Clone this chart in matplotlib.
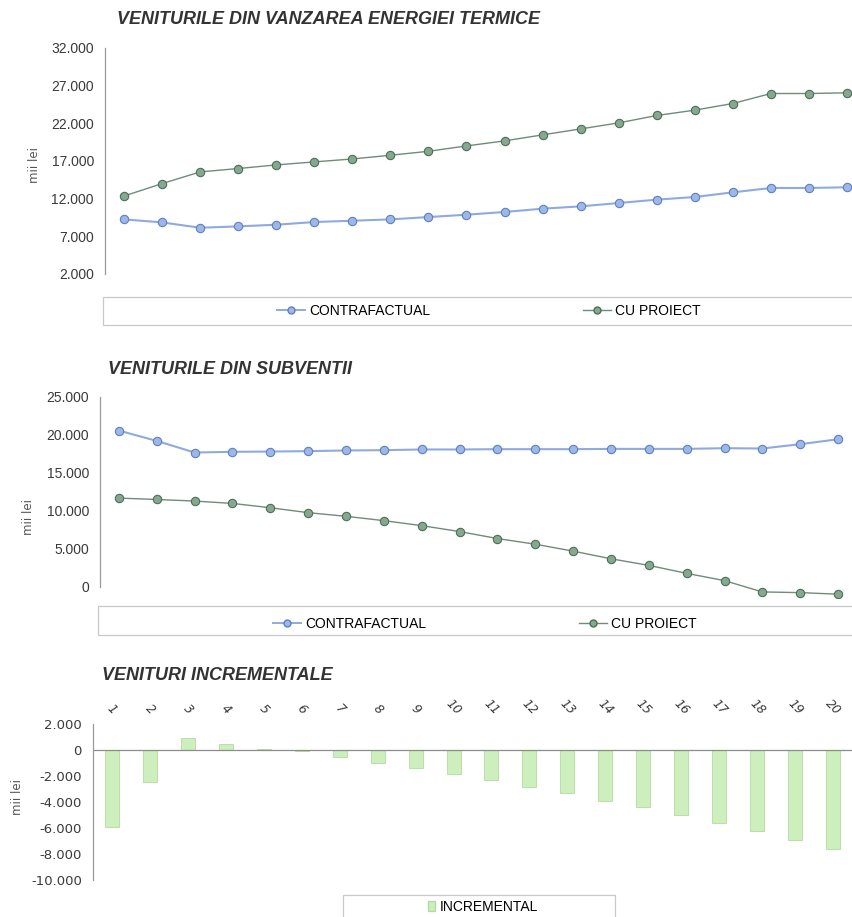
import matplotlib
matplotlib.use("Agg")
import matplotlib.pyplot as plt
from matplotlib.patches import Rectangle
from matplotlib.lines import Line2D
from matplotlib.ticker import FuncFormatter

# date (mii lei)
ani = list(range(1, 21))

termic_contrafactual = [9250, 8850, 8140, 8320, 8540, 8900, 9070, 9250, 9560, 9870,
                        10230, 10670, 10980, 11420, 11870, 12220, 12840, 13420, 13420, 13510]
termic_cu_proiect = [12350, 14000, 15550, 16000, 16480, 16880, 17270, 17760, 18290, 19000,
                     19670, 20470, 21260, 22060, 23040, 23750, 24630, 25960, 25960, 26050]

subventii_contrafactual = [20570, 19210, 17680, 17770, 17810, 17860, 17950, 17990, 18080, 18080,
                           18120, 18120, 18120, 18160, 18160, 18160, 18250, 18210, 18780, 19430]
subventii_cu_proiect = [11670, 11490, 11280, 10970, 10400, 9750, 9270, 8700, 8040, 7260,
                        6340, 5590, 4680, 3670, 2800, 1750, 790, -700, -790, -1000]

incremental = [-5900, -2450, 900, 500, 100, -50, -500, -1000, -1400, -1850,
               -2300, -2850, -3300, -3900, -4400, -5000, -5600, -6200, -6900, -7650]

W, H = 853, 917
NARROW = ['Liberation Sans Narrow', 'Liberation Sans', 'DejaVu Sans']
TXT = '#3a3a3a'
BLUE_L, BLUE_M, BLUE_E = '#8eaadf', '#9db8e6', '#5f7fbf'
GREEN_L, GREEN_M, GREEN_E = '#6f8c78', '#86a890', '#4d6e57'


def px(x, y):
    return x / W, 1 - y / H


def fmt(v, pos):
    return f"{int(round(v)):,}".replace(",", ".")


def box(x0, y0, x1, y1):
    fig.patches.append(Rectangle(px(x0, y1), (x1 - x0) / W, (y1 - y0) / H,
                                 transform=fig.transFigure, fill=False,
                                 edgecolor='#c8c8c8', linewidth=0.9))


def style(ax, ylim, ticks, bounds=None):
    ax.set_xlim(0.5, 20.5)
    ax.set_ylim(*ylim)
    ax.set_yticks(ticks)
    ax.yaxis.set_major_formatter(FuncFormatter(fmt))
    for s in ['top', 'right', 'bottom']:
        ax.spines[s].set_visible(False)
    ax.spines['left'].set_color('#9a9a9a')
    ax.spines['left'].set_linewidth(0.9)
    if bounds:
        ax.spines['left'].set_bounds(*bounds)
    ax.tick_params(axis='y', length=0, pad=8, labelcolor=TXT)
    ax.patch.set_alpha(0)


fig = plt.figure(figsize=(W / 100, H / 100), dpi=100)

# ---- grafic 1: energie termica
ax1 = fig.add_axes([105 / W, 1 - 274 / H, 761 / W, 226 / H])
ax1.plot(ani, termic_contrafactual, color=BLUE_L, lw=1.5, marker='o', ms=6,
         mfc=BLUE_M, mec=BLUE_E, mew=0.8)
ax1.plot(ani, termic_cu_proiect, color=GREEN_L, lw=1.0, marker='o', ms=6,
         mfc=GREEN_M, mec=GREEN_E, mew=0.8)
style(ax1, (2000, 32000), range(2000, 32001, 5000))
ax1.set_xticks([])
for t in ax1.get_yticklabels():
    t.set_family(NARROW)
    t.set_fontsize(10)

# ---- grafic 2: subventii
ax2 = fig.add_axes([100 / W, 1 - 598 / H, 757 / W, 201 / H])
ax2.plot(ani, subventii_contrafactual, color=BLUE_L, lw=1.5, marker='o', ms=6,
         mfc=BLUE_M, mec=BLUE_E, mew=0.8)
ax2.plot(ani, subventii_cu_proiect, color=GREEN_L, lw=1.0, marker='o', ms=6,
         mfc=GREEN_M, mec=GREEN_E, mew=0.8)
style(ax2, (-1500, 25000), range(0, 25001, 5000), bounds=(0, 25000))
ax2.set_xticks([])
for t in ax2.get_yticklabels():
    t.set_family(NARROW)
    t.set_fontsize(10)

# ---- grafic 3: incremental
ax3 = fig.add_axes([93 / W, 1 - 880 / H, 759 / W, 156 / H])
ax3.bar(ani, incremental, width=0.37, color='#cdeebd', edgecolor='#b3dba0', linewidth=0.6)
ax3.axhline(0, color='#8c8c8c', lw=0.9)
style(ax3, (-10000, 2000), range(-10000, 2001, 2000))
ax3.xaxis.tick_top()
ax3.set_xticks(ani)
ax3.set_xticklabels([str(a) for a in ani], rotation=-45, fontstyle='italic',
                    fontsize=9, color=TXT, ha='center', va='bottom')
ax3.tick_params(axis='x', length=0, pad=5)
for t in ax3.get_yticklabels():
    t.set_fontsize(9.5)

# ---- titluri
titles = [("VENITURILE DIN VANZAREA ENERGIEI TERMICE", 117, 20),
          ("VENITURILE DIN SUBVENTII", 108, 370),
          ("VENITURI INCREMENTALE", 102, 675)]
for txt, x, y in titles:
    fig.text(*px(x, y), txt, fontsize=13, fontweight='bold', fontstyle='italic',
             family=NARROW, color='#333333', ha='left', va='center')

for x, y in [(35, 165), (28, 517), (18, 797)]:
    fig.text(*px(x, y), "mii lei", rotation=90, fontsize=8.5, color='#555555',
             ha='center', va='center')

# ---- legende
h_cf = Line2D([], [], color=BLUE_L, lw=1.4, marker='o', ms=5, mfc=BLUE_M, mec=BLUE_E)
h_cp = Line2D([], [], color=GREEN_L, lw=1.0, marker='o', ms=5, mfc=GREEN_M, mec=GREEN_E)

box(103, 297, 880, 325)
fig.legend([h_cf, h_cp], ["CONTRAFACTUAL", "CU PROIECT"], loc='center',
           bbox_to_anchor=px(489, 311), ncol=2, frameon=False, columnspacing=11.0,
           handlelength=2.0, handletextpad=0.3, prop={'family': NARROW, 'size': 10})

box(98, 606, 880, 635)
fig.legend([h_cf, h_cp], ["CONTRAFACTUAL", "CU PROIECT"], loc='center',
           bbox_to_anchor=px(485, 624), ncol=2, frameon=False, columnspacing=11.0,
           handlelength=2.0, handletextpad=0.3, prop={'family': NARROW, 'size': 10})

box(343, 895, 615, 930)
h_inc = Rectangle((0, 0), 1, 1, facecolor='#cdeebd', edgecolor='#b3dba0')
fig.legend([h_inc], ["INCREMENTAL"], loc='center', bbox_to_anchor=px(483, 907),
           frameon=False, handlelength=0.5, handleheight=0.7, handletextpad=0.4,
           prop={'family': NARROW, 'size': 10})

fig.savefig("out.png", dpi=100, facecolor='white')
